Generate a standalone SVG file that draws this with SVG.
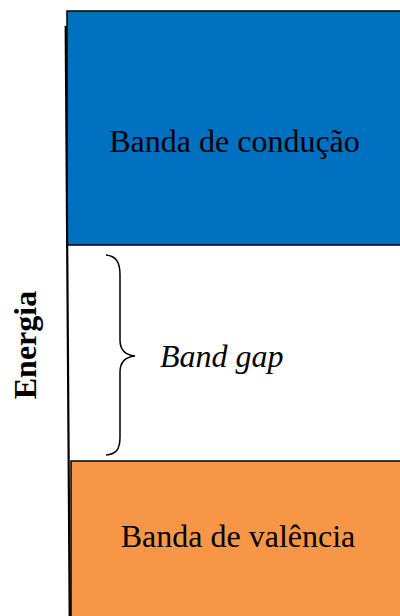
<svg xmlns="http://www.w3.org/2000/svg" width="400" height="616" viewBox="0 0 400 616">
<style>
.band{stroke:#000;stroke-width:1.5}
.lbl{font-family:"Liberation Serif","Times New Roman",serif;font-size:32px;fill:#000}
</style>
<rect width="400" height="616" fill="#fff"/>
<g id="conduction">
<rect class="band" x="67" y="11" width="340" height="234" fill="#0070C0"/>
<text class="lbl" x="234.5" y="152" text-anchor="middle">Banda de condução</text>
</g>
<g id="valence">
<rect class="band" x="71" y="461" width="340" height="160" fill="#F79646"/>
<text class="lbl" x="238" y="547" text-anchor="middle">Banda de valência</text>
</g>
<g id="axis">
<line x1="65.7" y1="26" x2="69.7" y2="616" stroke="#000" stroke-width="2.2"/>
<text class="lbl" font-weight="bold" transform="translate(36,345) rotate(-90)" text-anchor="middle">Energia</text>
</g>
<g id="gap">
<path d="M106,255 C116,256 120,262 120,275 L120,340 C120,350 125,355 135,356 C125,357 120,362 120,372 L120,437 C120,450 116,454 106,455" fill="none" stroke="#000" stroke-width="1.5"/>
<text class="lbl" font-style="italic" x="160" y="367">Band gap</text>
</g>
</svg>
